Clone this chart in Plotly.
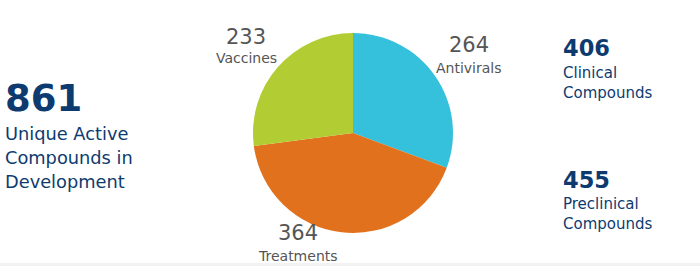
import plotly.graph_objects as go

W, H = 700, 266

categories = ["Antivirals", "Treatments", "Vaccines"]
values = [264, 364, 233]
colors = ["#35c0dc", "#e2711d", "#b2cc33"]

total_label = ["Unique Active", "Compounds in", "Development"]
clinical = 406
preclinical = 455

NAVY = "#0d3b6f"
GRAY = "#555555"
FONT = "DejaVu Sans, Verdana, sans-serif"

def px(x):
    return x / W

def py(y):
    return 1 - y / H

fig = go.Figure()
fig.add_trace(go.Pie(
    labels=categories, values=values, sort=False, direction="clockwise",
    rotation=0, marker=dict(colors=colors, line=dict(width=0)),
    textinfo="none", hoverinfo="label+value", showlegend=False,
    domain=dict(x=[px(253), px(453)], y=[py(233), py(33)]),
))

ann = []
def add(x, y, text, size, color, bold=False, xanchor="left"):
    ann.append(dict(x=px(x), y=py(y), xref="paper", yref="paper", text=(f"<b>{text}</b>" if bold else text),
                    showarrow=False, xanchor=xanchor, yanchor="middle",
                    font=dict(family=FONT, size=size, color=color)))

# left block
add(3, 99, str(sum(values)), 37, NAVY, bold=True)
for i, t in enumerate(total_label):
    add(3, 133 + 24 * i, t, 17.8, NAVY)

# right blocks
add(561, 48, str(clinical), 22.5, NAVY, bold=True)
add(561, 73, "Clinical", 15, NAVY)
add(561, 93, "Compounds", 15, NAVY)
add(561, 180, str(preclinical), 22.5, NAVY, bold=True)
add(561, 204, "Preclinical", 15, NAVY)
add(561, 224, "Compounds", 15, NAVY)

# slice labels
label_pos = {"Antivirals": (469, 45, 68), "Treatments": (298, 233, 256), "Vaccines": (246, 37, 58)}
for c, v in zip(categories, values):
    x, yv, yl = label_pos[c]
    add(x, yv, str(v), 21, GRAY, xanchor="center")
    add(x, yl, c, 14, GRAY, xanchor="center")

fig.update_layout(
    width=W, height=H, margin=dict(l=0, r=0, t=0, b=0),
    paper_bgcolor="white", plot_bgcolor="white", annotations=ann,
    shapes=[dict(type="rect", xref="paper", yref="paper", x0=0, x1=1, y0=0, y1=py(263),
                 fillcolor="#f2f2f2", line=dict(width=0), layer="below")],
)
fig.write_html("out.html")
